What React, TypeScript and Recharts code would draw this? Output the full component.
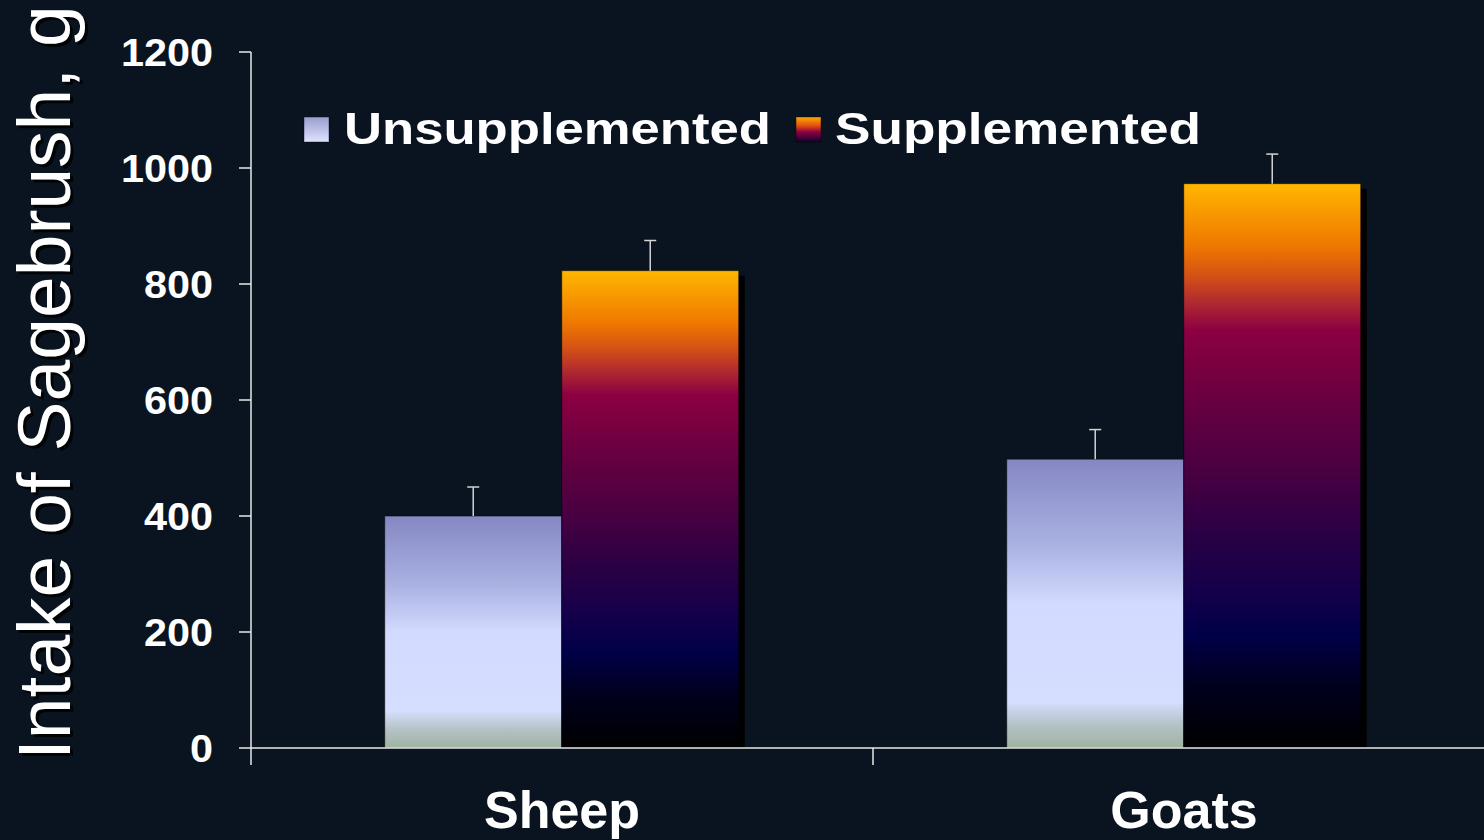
import React from 'react';
import { BarChart, Bar, XAxis, YAxis, Customized } from 'recharts';

const categories = ['Sheep', 'Goats'];
const seriesNames = ['Unsupplemented', 'Supplemented'];
const unsupplemented = [400, 498];
const supplemented = [823, 973];
const unsupplementedErr = [50, 51];
const supplementedErr = [52, 51];
const yTicks = [0, 200, 400, 600, 800, 1000, 1200];
const yLabel = 'Intake of Sagebrush, g';

const data = categories.map((name, i) => ({
  name,
  unsup: unsupplemented[i],
  sup: supplemented[i],
  unsupErr: unsupplementedErr[i],
  supErr: supplementedErr[i],
}));

const BG = '#0a1420';
const AXIS = '#e8e8e8';
const FONT = '"Liberation Sans", Arial, Helvetica, sans-serif';

function makeShape(valKey: string, errKey: string) {
  return (props: any) => {
    const { x, y, width, height, fill, payload } = props;
    if (!height || height <= 0) return null;
    const v = payload[valKey];
    const e = payload[errKey];
    const ppu = height / v;
    const ey = y - e * ppu;
    const cx = x + width / 2;
    return (
      <g>
        <rect x={x + 6} y={y + 5} width={width} height={Math.max(0, height - 5)} fill="#000" />
        <rect x={x} y={y} width={width} height={height} fill={fill} stroke="rgba(0,0,0,0.55)" strokeWidth={1} />
        <line x1={cx} x2={cx} y1={y} y2={ey} stroke="#d4d4d4" strokeWidth={1.5} />
        <line x1={cx - 6} x2={cx + 6} y1={ey} y2={ey} stroke="#d4d4d4" strokeWidth={1.5} />
      </g>
    );
  };
}

const YTick = (props: any) => {
  const { x, y, payload } = props;
  const s = String(payload.value);
  return (
    <g>
      <line x1={x - 12} x2={x} y1={y} y2={y} stroke={AXIS} strokeWidth={1.5} />
      <text
        x={x - 38}
        y={y + 14}
        textAnchor="end"
        fill="#fff"
        fontFamily={FONT}
        fontWeight="bold"
        fontSize={39}
        textLength={s.length * 23}
        lengthAdjust="spacingAndGlyphs"
      >
        {s}
      </text>
    </g>
  );
};

const XTick = (props: any) => {
  const { x, y, payload } = props;
  const off = payload && payload.offset != null ? payload.offset : 0;
  return (
    <g>
      {off ? <line x1={x - off} x2={x - off} y1={y} y2={y + 17} stroke={AXIS} strokeWidth={1.5} /> : null}
      <text x={x} y={y + 80} textAnchor="middle" fill="#fff" fontFamily={FONT} fontWeight="bold" fontSize={52}>
        {payload.value}
      </text>
    </g>
  );
};

const Overlay = () => (
  <g>
    {/* legend */}
    <rect x={304} y={117} width={25} height={25} fill="url(#legUnsup)" stroke="rgba(0,0,0,0.4)" />
    <text x={344} y={144} fill="#fff" fontFamily={FONT} fontWeight="bold" fontSize={45} textLength={427} lengthAdjust="spacingAndGlyphs">
      {seriesNames[0]}
    </text>
    <rect x={796} y={117} width={25} height={25} fill="url(#legSup)" stroke="rgba(0,0,0,0.4)" />
    <text x={835} y={144} fill="#fff" fontFamily={FONT} fontWeight="bold" fontSize={45} textLength={366} lengthAdjust="spacingAndGlyphs">
      {seriesNames[1]}
    </text>
    {/* y axis title */}
    <text transform="translate(73,763) rotate(-90)" fill="rgba(0,0,0,0.85)" fontFamily={FONT} fontSize={75}>
      {yLabel}
    </text>
    <text transform="translate(70,760) rotate(-90)" fill="#fff" fontFamily={FONT} fontSize={75}>
      {yLabel}
    </text>
  </g>
);

export default function App() {
  return (
    <div style={{ position: 'absolute', left: 0, top: 0, width: 1484, height: 840, overflow: 'hidden', background: BG }}>
      <BarChart
        width={1500}
        height={840}
        data={data}
        margin={{ top: 52, right: 5, bottom: 0, left: 0 }}
        barCategoryGap="21.5%"
        barGap={0}
        style={{ background: BG }}
      >
        <defs>
          <linearGradient id="gradUnsup" x1="0" y1="0" x2="0" y2="1">
            <stop offset="0" stopColor="#8587c3" />
            <stop offset="0.3" stopColor="#aab2e2" />
            <stop offset="0.5" stopColor="#d2daff" />
            <stop offset="0.84" stopColor="#d6deff" />
            <stop offset="0.92" stopColor="#b4c2c4" />
            <stop offset="1" stopColor="#9fb3a3" />
          </linearGradient>
          <linearGradient id="gradSup" x1="0" y1="0" x2="0" y2="1">
            <stop offset="0" stopColor="#ffb700" />
            <stop offset="0.05" stopColor="#f89a00" />
            <stop offset="0.11" stopColor="#ef7800" />
            <stop offset="0.16" stopColor="#d65414" />
            <stop offset="0.21" stopColor="#b02a30" />
            <stop offset="0.26" stopColor="#8c0042" />
            <stop offset="0.37" stopColor="#6c0040" />
            <stop offset="0.52" stopColor="#460042" />
            <stop offset="0.62" stopColor="#2a0044" />
            <stop offset="0.72" stopColor="#14004a" />
            <stop offset="0.8" stopColor="#000048" />
            <stop offset="0.89" stopColor="#00001e" />
            <stop offset="1" stopColor="#000000" />
          </linearGradient>
          <linearGradient id="legUnsup" x1="0" y1="0" x2="0" y2="1">
            <stop offset="0" stopColor="#9a9ccf" />
            <stop offset="1" stopColor="#dfe4ff" />
          </linearGradient>
          <linearGradient id="legSup" x1="0" y1="0" x2="0" y2="1">
            <stop offset="0" stopColor="#ffa800" />
            <stop offset="0.35" stopColor="#e05010" />
            <stop offset="0.6" stopColor="#8c0042" />
            <stop offset="1" stopColor="#100030" />
          </linearGradient>
        </defs>
        <XAxis
          dataKey="name"
          height={92}
          axisLine={{ stroke: AXIS, strokeWidth: 1.5 }}
          tickLine={false}
          tickSize={0}
          tickMargin={0}
          tick={<XTick />}
          interval={0}
        />
        <YAxis
          width={251}
          domain={[0, 1200]}
          ticks={yTicks}
          interval={0}
          axisLine={{ stroke: AXIS, strokeWidth: 1.5 }}
          tickLine={false}
          tickSize={0}
          tickMargin={0}
          tick={<YTick />}
        />
        <Bar dataKey="unsup" name={seriesNames[0]} fill="url(#gradUnsup)" isAnimationActive={false} shape={makeShape('unsup', 'unsupErr')} />
        <Bar dataKey="sup" name={seriesNames[1]} fill="url(#gradSup)" isAnimationActive={false} shape={makeShape('sup', 'supErr')} />
        <Customized component={Overlay} />
      </BarChart>
    </div>
  );
}
